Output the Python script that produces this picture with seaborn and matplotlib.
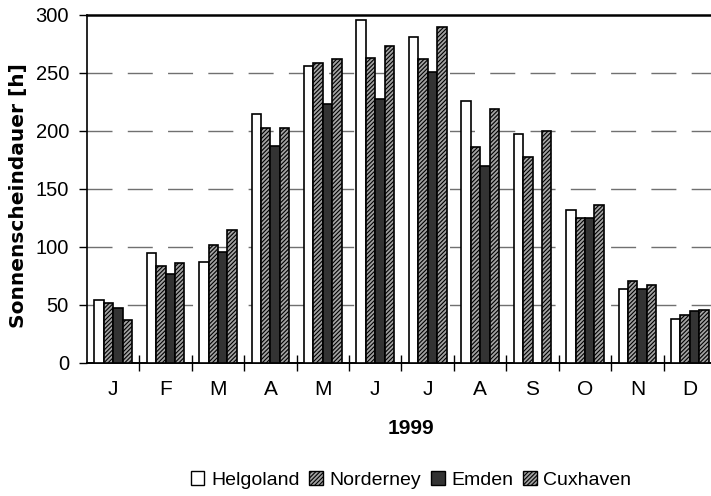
import numpy as np
import pandas as pd
import matplotlib
matplotlib.use("Agg")
import matplotlib.pyplot as plt
from matplotlib.patches import Patch
from matplotlib.ticker import FixedLocator
import seaborn as sns

months = ["Jan", "Feb", "Mar", "Apr", "May", "Jun", "Jul", "Aug", "Sep", "Oct", "Nov", "Dec"]
month_labels = ["J", "F", "M", "A", "M", "J", "J", "A", "S", "O", "N", "D"]
stations = ["Helgoland", "Norderney", "Emden", "Cuxhaven"]

helgoland = [54, 95, 87, 215, 256, 296, 281, 226, 197, 132, 64, 38]
norderney = [52, 84, 102, 203, 259, 263, 262, 186, 178, 125, 71, 41]
emden = [47, 77, 96, 187, 223, 228, 251, 170, np.nan, 125, 64, 45]
cuxhaven = [37, 86, 115, 203, 262, 273, 290, 219, 200, 136, 67, 46]

yticks = [0, 50, 100, 150, 200, 250, 300]

df = pd.DataFrame({
    "Monat": months * 4,
    "Station": sum([[s] * 12 for s in stations], []),
    "Stunden": helgoland + norderney + emden + cuxhaven,
})

plt.rcParams["font.family"] = ["Liberation Sans", "DejaVu Sans"]
plt.rcParams["hatch.linewidth"] = 0.8
plt.rcParams["hatch.color"] = "#2e2e2e"

HATCH_FACE = "#a2a2a2"
HATCH = "////////"

fig = plt.figure(figsize=(7.11, 4.96), dpi=100)
ax = fig.add_axes([87 / 711, (496 - 363) / 496, (716 - 87) / 711, 348 / 496])

sns.barplot(data=df, x="Monat", y="Stunden", hue="Station", order=months,
            hue_order=stations, width=0.72, ax=ax, legend=False,
            edgecolor="black", linewidth=1.2, gap=0)

styles = {
    "Helgoland": dict(facecolor="white", hatch=None),
    "Norderney": dict(facecolor=HATCH_FACE, hatch=HATCH),
    "Emden": dict(facecolor="#333333", hatch=None),
    "Cuxhaven": dict(facecolor=HATCH_FACE, hatch=HATCH),
}
for cont, st in zip(ax.containers, stations):
    for bar in cont:
        bar.set_facecolor(styles[st]["facecolor"])
        bar.set_edgecolor("black")
        bar.set_hatch(styles[st]["hatch"])
        bar.set_zorder(3)

ax.set_ylim(0, 300)
ax.set_xlim(-0.5, 11.5)
ax.set_yticks(yticks)
ax.tick_params(axis="y", which="major", direction="out", length=6, width=1.0,
               labelsize=14.5, pad=7, colors="black")
ax.set_xticks(range(12))
ax.set_xticklabels(month_labels, fontsize=15)
ax.tick_params(axis="x", which="major", length=0, pad=12)
ax.xaxis.set_minor_locator(FixedLocator(np.arange(0.5, 11.5, 1.0)))
ax.tick_params(axis="x", which="minor", direction="inout", length=12, width=1.0)

for y in yticks[1:-1]:
    ax.axhline(y, color="#707070", lw=1.0, dashes=(18, 11), zorder=1)

for s in ["top", "left", "bottom"]:
    ax.spines[s].set_visible(True)
    ax.spines[s].set_color("black")
ax.spines["top"].set_linewidth(1.8)
ax.spines["bottom"].set_linewidth(1.4)
ax.spines["left"].set_linewidth(1.2)
ax.spines["right"].set_visible(False)

ax.set_ylabel("Sonnenscheindauer [h]", fontsize=14.5, fontweight="bold",
              family=["DejaVu Sans"])
ax.yaxis.set_label_coords((28 - 87) / 629, 0.48)
ax.set_xlabel("1999", fontsize=15, fontweight="bold")
ax.xaxis.set_label_coords((411 - 87) / 629, -(419 - 363) / 348)

handles = [
    Patch(facecolor="white", edgecolor="black", lw=1.0),
    Patch(facecolor=HATCH_FACE, edgecolor="black", hatch=HATCH, lw=1.0),
    Patch(facecolor="#333333", edgecolor="black", lw=1.0),
    Patch(facecolor=HATCH_FACE, edgecolor="black", hatch=HATCH, lw=1.0),
]
fig.legend(handles, stations, loc="center", bbox_to_anchor=(411 / 711, 1 - 480 / 496),
           ncol=4, frameon=False, fontsize=14, handlelength=0.7, handleheight=0.7,
           handletextpad=0.35, columnspacing=0.5, borderaxespad=0)

fig.savefig("out.png", dpi=100)
